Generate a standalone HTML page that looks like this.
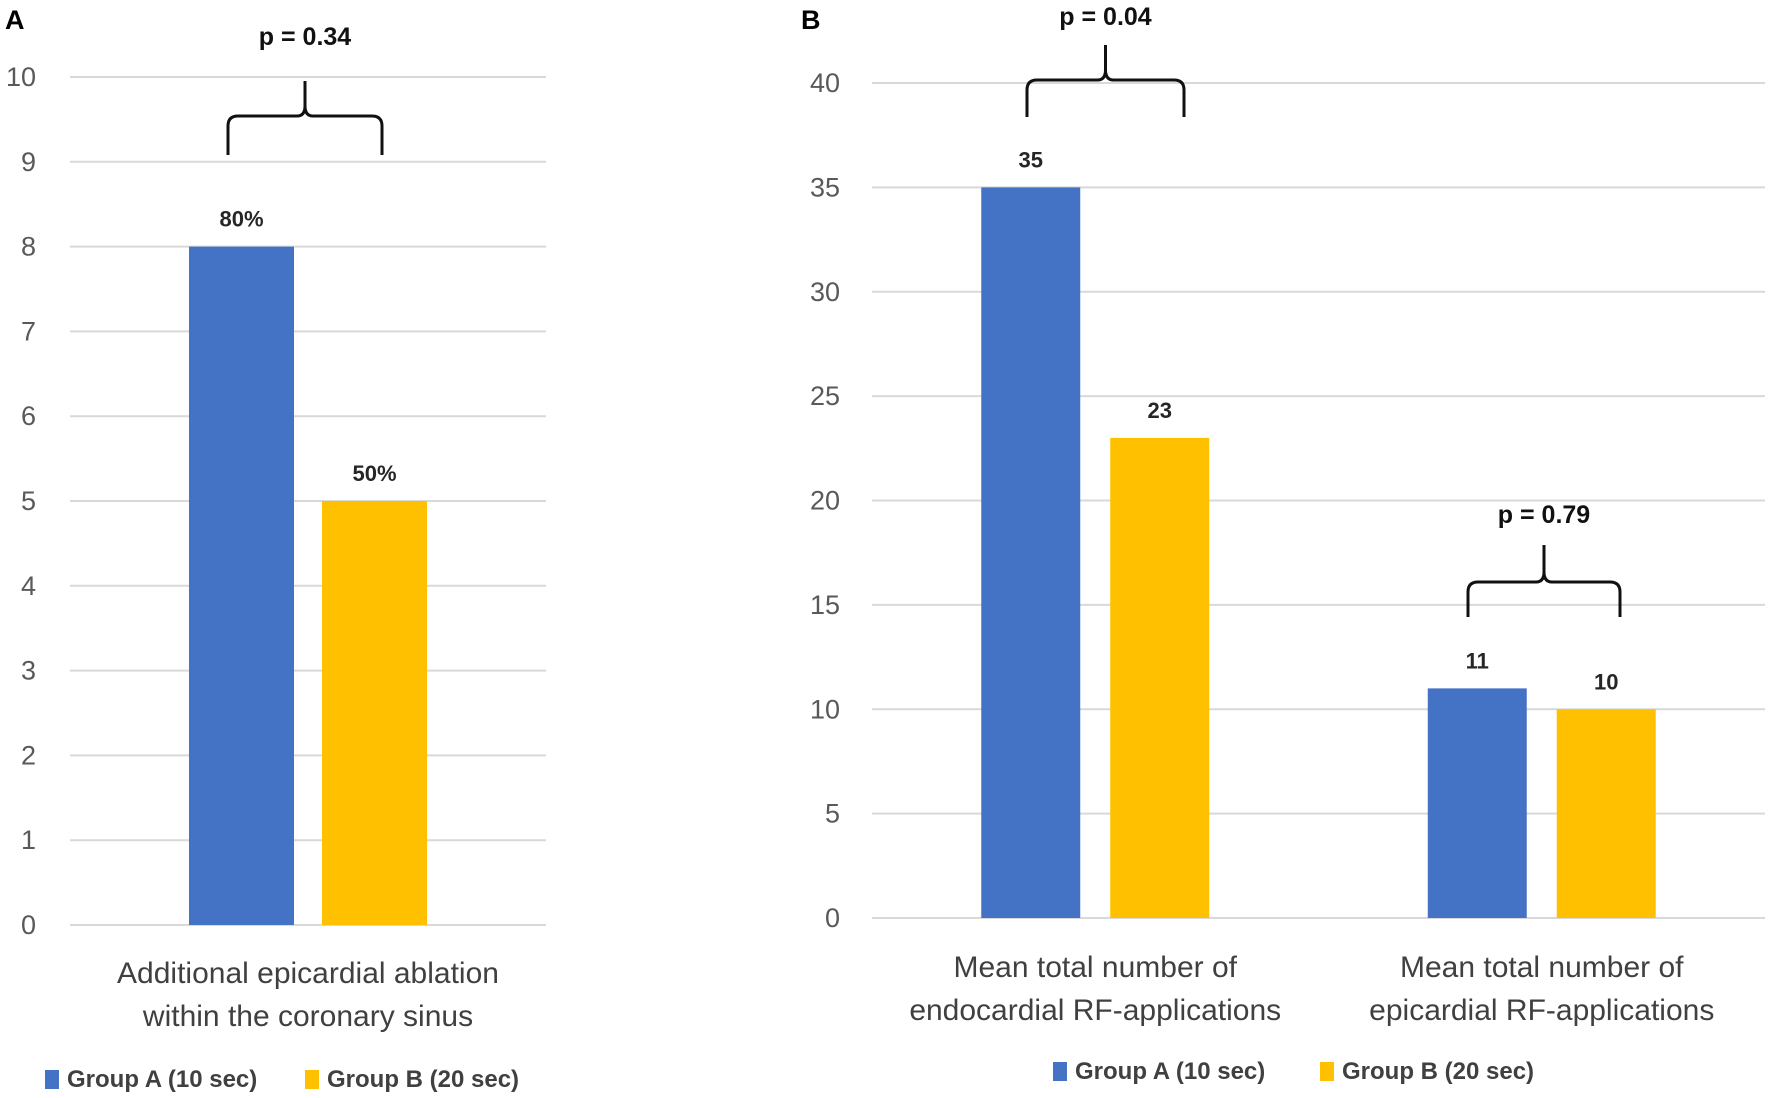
<!DOCTYPE html>
<html><head><meta charset="utf-8"><style>
html,body{margin:0;padding:0;background:#fff;}
svg{display:block;}
text{font-family:"Liberation Sans Narrow","Liberation Sans",sans-serif;}
</style></head><body>
<svg id="c" width="1772" height="1098" viewBox="0 0 1772 1098" xmlns="http://www.w3.org/2000/svg"></svg>
<script>
// Panel A data
const aCategories = ["Additional epicardial ablation|within the coronary sinus"];
const aGroupA = [8];
const aGroupB = [5];
const aLabelsA = ["80%"];
const aLabelsB = ["50%"];
const aTicks = [0,1,2,3,4,5,6,7,8,9,10];
// Panel B data
const bCategories = ["Mean total number of|endocardial RF-applications","Mean total number of|epicardial RF-applications"];
const bGroupA = [35, 11];
const bGroupB = [23, 10];
const bTicks = [0,5,10,15,20,25,30,35,40];
const seriesNames = ["Group A (10 sec)","Group B (20 sec)"];
const pValuesA = ["p = 0.34"];
const pValuesB = ["p = 0.04","p = 0.79"];

const NS="http://www.w3.org/2000/svg";
const svg=document.getElementById('c');
function mk(tag,attrs,parent){const e=document.createElementNS(NS,tag);for(const k in attrs)e.setAttribute(k,attrs[k]);(parent||svg).appendChild(e);return e;}
function txt(s,attrs,parent){const e=mk('text',attrs,parent);e.textContent=s;return e;}

function panel(cfg){
  const g=mk('g',{});
  
  
  const y=v=>cfg.y0-(v-cfg.tmin)/(cfg.tmax-cfg.tmin)*(cfg.y0-cfg.y1);
  const n=cfg.cats.length, bw=(cfg.x1-cfg.x0)/n;
  cfg.ticks.forEach(t=>{
    const l=mk('line',{x1:cfg.x0,x2:cfg.x1,y1:y(t),y2:y(t),stroke:'#d9d9d9','stroke-width':2},g);
    
    
    const tl=txt(String(t),{x:cfg.tickX,y:y(t)+9,'text-anchor':'end','font-size':27,fill:'#595959'},g);
    
    
  });
  for(let i=0;i<n;i++){
    const cx=cfg.x0+bw*(i+0.5);
    const vals=[cfg.A[i],cfg.B[i]], labs=[cfg.labA[i],cfg.labB[i]], cols=['#4472c4','#ffc000'];
    const xs=[cx-cfg.barW-cfg.gap/2, cx+cfg.gap/2];
    for(let s=0;s<2;s++){
      const r=mk('rect',{x:xs[s],y:y(vals[s]),width:cfg.barW,height:y(0)-y(vals[s]),fill:cols[s]},g);
      
      
      const vl=txt(labs[s],{x:xs[s]+cfg.barW/2,y:y(vals[s])-20,'text-anchor':'middle','font-size':22,'font-weight':'bold',fill:'#262626'},g);
      
      
    }
    const lines=cfg.cats[i].split('|');
    lines.forEach((ln,k)=>{
      const cl=txt(ln,{x:cx,y:cfg.catY+k*43,'text-anchor':'middle','font-size':30,fill:'#404040'},g);
      
      
    });
  }
  cfg.legend.forEach((lg,s)=>{
    const sq=mk('rect',{x:lg[0],y:cfg.legY-17,width:14,height:19,fill:['#4472c4','#ffc000'][s]},g);
    
    
    const lt=txt(seriesNames[s],{x:lg[0]+22,y:cfg.legY,'font-size':24,'font-weight':'bold',fill:'#404040'},g);
    
    
  });
  cfg.braces.forEach((b,k)=>{
    const [xl,xr,yt,yb,ym]=b, xm=(xl+xr)/2;
    const d=`M${xl},${yb} L${xl},${ym+10} Q${xl},${ym} ${xl+10},${ym} L${xm-8},${ym} Q${xm},${ym} ${xm},${ym-10} L${xm},${yt} M${xm},${ym-10} Q${xm},${ym} ${xm+8},${ym} L${xr-10},${ym} Q${xr},${ym} ${xr},${ym+10} L${xr},${yb}`;
    const p=mk('path',{d:d,fill:'none',stroke:'#111','stroke-width':3},g);
    
    
    const pt=txt(cfg.pv[k],{x:xm,y:b[5],'text-anchor':'middle','font-size':25,'font-weight':'bold',fill:'#111'},g);
    
    
  });
  const pl=txt(cfg.letter,{x:cfg.letterX,y:29,'font-size':27,'font-weight':'bold',fill:'#000','font-family':'Liberation Sans, sans-serif'},g);
  
  
}

panel({name:'panel-a',letter:'A',letterX:5,cats:aCategories,A:aGroupA,B:aGroupB,labA:aLabelsA,labB:aLabelsB,
  ticks:aTicks,tmin:0,tmax:10,y0:925,y1:77,x0:70,x1:546,tickX:36,barW:105,gap:28,catY:983,
  legY:1087,legend:[[45,0],[305,0]],braces:[[228,382,81,155,116,45]],pv:pValuesA});
panel({name:'panel-b',letter:'B',letterX:801,cats:bCategories,A:bGroupA,B:bGroupB,labA:bGroupA.map(String),labB:bGroupB.map(String),
  ticks:bTicks,tmin:0,tmax:40,y0:918,y1:83,x0:872,x1:1765,tickX:840,barW:99,gap:30,catY:977,
  legY:1079,legend:[[1053,0],[1320,0]],braces:[[1027,1184,45,117,80,25],[1468,1620,545,617,582,523]],pv:pValuesB});
</script>
</body></html>
